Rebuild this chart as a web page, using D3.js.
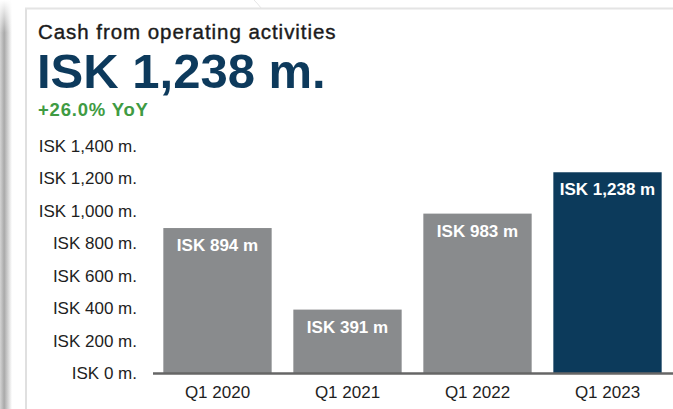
<!DOCTYPE html>
<html>
<head>
<meta charset="utf-8">
<script src="https://cdn.jsdelivr.net/npm/d3@7"></script>
<style>
  html, body { margin: 0; padding: 0; background: #fff; }
  svg { display: block; font-family: "Liberation Sans", Arial, sans-serif; }
</style>
</head>
<body>
<svg id="chart" width="673" height="409"></svg>
<script>
// Quarterly cash from operating activities (ISK millions)
const categories = ["Q1 2020", "Q1 2021", "Q1 2022", "Q1 2023"];
const values = [894, 391, 983, 1238];
const yTicks = [0, 200, 400, 600, 800, 1000, 1200, 1400];
const titleText = "Cash from operating activities";
const growthText = "+26.0% YoY";

const svg = d3.select("#chart");
const W = 673, H = 409;
const fmt = d3.format(",");

// card frame with a soft shadow on the left
const defs = svg.append("defs");
const grad = defs.append("linearGradient").attr("id", "shade")
  .attr("x1", "0").attr("x2", "1").attr("y1", "0").attr("y2", "0");
grad.append("stop").attr("offset", "0%").attr("stop-color", "#d4d4d4");
grad.append("stop").attr("offset", "35%").attr("stop-color", "#a9a9a9");
grad.append("stop").attr("offset", "100%").attr("stop-color", "#ffffff");
const vfade = defs.append("linearGradient").attr("id", "vfade")
  .attr("x1", "0").attr("x2", "0").attr("y1", "0").attr("y2", "1");
vfade.append("stop").attr("offset", "0%").attr("stop-color", "#fff").attr("stop-opacity", 1);
vfade.append("stop").attr("offset", "8%").attr("stop-color", "#fff").attr("stop-opacity", 0);
vfade.append("stop").attr("offset", "100%").attr("stop-color", "#fff").attr("stop-opacity", 0);

svg.append("rect").attr("x", 0).attr("y", 0).attr("width", 12).attr("height", H)
  .attr("fill", "url(#shade)");
svg.append("rect").attr("x", 0).attr("y", 0).attr("width", 12).attr("height", H)
  .attr("fill", "url(#vfade)");

svg.append("line").attr("x1", 26).attr("x2", 26).attr("y1", 8).attr("y2", H)
  .attr("stroke", "#e0e0e0").attr("stroke-width", 2);
svg.append("line").attr("x1", 25).attr("x2", W).attr("y1", 8.5).attr("y2", 8.5)
  .attr("stroke", "#e4e4e4").attr("stroke-width", 2);
svg.append("path").attr("d", "M254,0 Q258,4 261,8")
  .attr("fill", "none").attr("stroke", "#e6e6e6").attr("stroke-width", 1);

// header
svg.append("text").attr("x", 38).attr("y", 39)
  .attr("font-size", 20.5).attr("font-weight", 400).attr("fill", "#1b1b1b")
  .attr("stroke", "#1b1b1b").attr("stroke-width", 0.4)
  .attr("letter-spacing", 0.95)
  .text(titleText);

svg.append("text").attr("x", 37).attr("y", 88)
  .attr("font-size", 49).attr("font-weight", 700).attr("fill", "#0d3a5c")
  .text("ISK " + fmt(values[values.length - 1]) + " m.");

svg.append("text").attr("x", 38).attr("y", 116)
  .attr("font-size", 18.5).attr("font-weight", 700).attr("fill", "#3f9b43")
  .attr("letter-spacing", 0.8)
  .text(growthText);

// scales
const x = d3.scaleBand().domain(categories).range([152.5, 672.5])
  .paddingInner(0.1667).paddingOuter(0.0833);
const y = d3.scaleLinear().domain([0, 1400]).range([373, 146]);

// bars
const bars = svg.append("g");
bars.selectAll("rect").data(values).join("rect")
  .attr("x", (d, i) => x(categories[i]))
  .attr("width", x.bandwidth())
  .attr("y", d => y(d))
  .attr("height", d => y(0) - y(d))
  .attr("fill", (d, i) => i === values.length - 1 ? "#0c3a5b" : "#898b8d");

bars.selectAll("text").data(values).join("text")
  .attr("x", (d, i) => x(categories[i]) + x.bandwidth() / 2)
  .attr("y", d => y(d) + 23)
  .attr("text-anchor", "middle")
  .attr("font-size", 17).attr("font-weight", 700).attr("fill", "#fff")
  .text(d => "ISK " + fmt(d) + " m");

// y axis (labels only)
const yAxis = svg.append("g").attr("transform", "translate(137,0)")
  .call(d3.axisLeft(y).tickValues(yTicks).tickSize(0).tickPadding(0)
    .tickFormat(d => "ISK " + fmt(d) + " m."));
yAxis.select(".domain").remove();
yAxis.selectAll("text").attr("font-size", 17).attr("fill", "#1e1e1e")
  .attr("font-family", "Liberation Sans, Arial, sans-serif");

// x axis with baseline
const xAxis = svg.append("g").attr("transform", "translate(0,373)")
  .call(d3.axisBottom(x).tickSize(0).tickPadding(13));
xAxis.select(".domain").attr("stroke", "#666").attr("stroke-width", 2.5);
xAxis.selectAll("text").attr("font-size", 17).attr("fill", "#1e1e1e")
  .attr("font-family", "Liberation Sans, Arial, sans-serif");
</script>
</body>
</html>
